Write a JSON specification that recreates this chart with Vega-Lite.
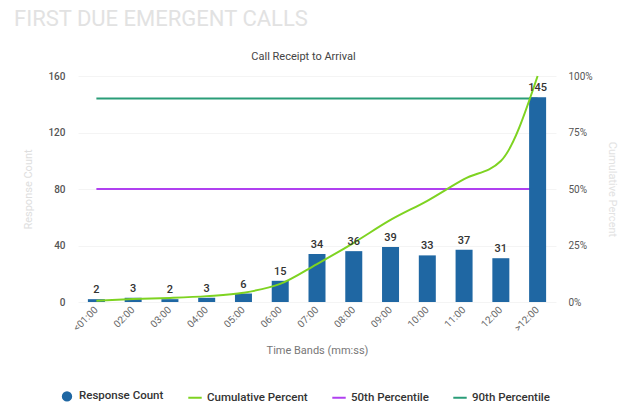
{
  "$schema": "https://vega.github.io/schema/vega-lite/v6.json",
  "width": 478,
  "height": 226,
  "autosize": "none",
  "padding": {"left": 78, "top": 76, "right": 74, "bottom": 116},
  "background": "white",
  "config": {
    "font": "Roboto",
    "view": {"stroke": null}
  },
  "title": {
    "text": "FIRST DUE EMERGENT CALLS",
    "anchor": "start",
    "frame": "group",
    "dx": -64,
    "dy": -15,
    "fontSize": 22,
    "fontWeight": "normal",
    "color": "#e2e2e2",
    "font": "Roboto"
  },
  "data": {
    "values": [
      {"band": "<01:00", "count": 2, "Cumulative Percent": 0.005, "50th Percentile": 0.5, "90th Percentile": 0.9},
      {"band": "02:00", "count": 3, "Cumulative Percent": 0.013, "50th Percentile": 0.5, "90th Percentile": 0.9},
      {"band": "03:00", "count": 2, "Cumulative Percent": 0.018, "50th Percentile": 0.5, "90th Percentile": 0.9},
      {"band": "04:00", "count": 3, "Cumulative Percent": 0.026, "50th Percentile": 0.5, "90th Percentile": 0.9},
      {"band": "05:00", "count": 6, "Cumulative Percent": 0.041, "50th Percentile": 0.5, "90th Percentile": 0.9},
      {"band": "06:00", "count": 15, "Cumulative Percent": 0.080, "50th Percentile": 0.5, "90th Percentile": 0.9},
      {"band": "07:00", "count": 34, "Cumulative Percent": 0.168, "50th Percentile": 0.5, "90th Percentile": 0.9},
      {"band": "08:00", "count": 36, "Cumulative Percent": 0.262, "50th Percentile": 0.5, "90th Percentile": 0.9},
      {"band": "09:00", "count": 39, "Cumulative Percent": 0.363, "50th Percentile": 0.5, "90th Percentile": 0.9},
      {"band": "10:00", "count": 33, "Cumulative Percent": 0.448, "50th Percentile": 0.5, "90th Percentile": 0.9},
      {"band": "11:00", "count": 37, "Cumulative Percent": 0.544, "50th Percentile": 0.5, "90th Percentile": 0.9},
      {"band": "12:00", "count": 31, "Cumulative Percent": 0.624, "50th Percentile": 0.5, "90th Percentile": 0.9},
      {"band": ">12:00", "count": 145, "Cumulative Percent": 1.0, "50th Percentile": 0.5, "90th Percentile": 0.9}
    ]
  },
  "encoding": {
    "x": {
      "field": "band",
      "type": "nominal",
      "sort": null,
      "scale": {"paddingInner": 0.54, "paddingOuter": 0.27}
    }
  },
  "layer": [
    {
      "transform": [{"fold": ["50th Percentile", "90th Percentile"], "as": ["series", "pct"]}],
      "mark": {"type": "line", "strokeWidth": 2},
      "encoding": {
        "x": {
          "field": "band", "type": "nominal", "sort": null,
          "axis": {
            "orient": "top", "title": "Call Receipt to Arrival", "labels": false, "ticks": false, "domain": false,
            "titleFont": "Roboto", "titleFontSize": 11, "titleFontWeight": "normal", "titleColor": "#444",
            "titlePadding": 15, "titleX": 225
          }
        },
        "y": {"field": "pct", "type": "quantitative", "scale": {"domain": [0, 1]}, "axis": null},
        "color": {
          "field": "series",
          "type": "nominal",
          "scale": {
            "domain": ["Response Count", "Cumulative Percent", "50th Percentile", "90th Percentile"],
            "range": ["#1f67a3", "#7ed321", "#b040f0", "#2a9d78"]
          },
          "legend": {
            "orient": "none",
            "legendX": -19,
            "legendY": 312,
            "direction": "horizontal",
            "title": null,
            "labelFont": "Roboto",
            "labelFontSize": 11.5,
            "labelFontWeight": 500,
            "labelColor": "#333",
            "columnPadding": 20,
            "symbolStrokeWidth": 2,
            "encode": {
              "symbols": {
                "update": {
                  "shape": {"signal": "datum.value === 'Response Count' ? 'circle' : 'stroke'"},
                  "size": {"signal": "datum.value === 'Response Count' ? 70 : 180"},
                  "fill": {"signal": "datum.value === 'Response Count' ? '#1f67a3' : 'transparent'"},
                  "stroke": {"scale": "color", "field": "value"},
                  "strokeWidth": {"value": 2}
                }
              }
            }
          }
        }
      }
    },
    {
      "mark": {"type": "bar", "size": 17},
      "encoding": {
        "x": {
          "field": "band", "type": "nominal", "sort": null,
          "axis": {
            "orient": "bottom", "title": "Time Bands (mm:ss)", "labelAngle": -45, "labelAlign": "right", "labelBaseline": "middle",
            "labelFont": "Roboto", "labelFontSize": 10, "labelColor": "#666", "labelPadding": 6,
            "ticks": false, "domain": false,
            "titleFont": "Roboto", "titleFontSize": 11, "titleFontWeight": "normal", "titleColor": "#777", "titlePadding": 12
          }
        },
        "y": {
          "field": "count", "type": "quantitative", "scale": {"domain": [0, 160]},
          "axis": {
            "values": [0, 40, 80, 120, 160], "title": "Response Count", "titleColor": "#dedede", "titleFontWeight": "normal",
            "titleFontSize": 11, "titlePadding": 14,
            "labelFont": "Roboto", "labelFontSize": 10, "labelFontWeight": 500, "labelColor": "#555", "labelPadding": 13,
            "ticks": false, "domain": false, "grid": true, "gridColor": "#f4f4f4"
          }
        },
        "color": {"datum": "Response Count", "type": "nominal"}
      }
    },
    {
      "transform": [{"fold": ["Cumulative Percent"], "as": ["series", "pct"]}],
      "mark": {"type": "line", "strokeWidth": 2, "interpolate": "monotone"},
      "encoding": {
        "x": {"field": "band", "type": "nominal", "sort": null, "axis": null},
        "y": {
          "field": "pct", "type": "quantitative", "scale": {"domain": [0, 1]},
          "axis": {
            "orient": "right", "values": [0, 0.25, 0.5, 0.75, 1], "format": ".0%", "title": "Cumulative Percent",
            "titleColor": "#e2e2e2", "titleFontWeight": "normal", "titleFontSize": 11, "titlePadding": 14,
            "labelFont": "Roboto", "labelFontSize": 10, "labelColor": "#555", "labelPadding": 12,
            "ticks": false, "domain": false, "grid": false
          }
        },
        "color": {"field": "series", "type": "nominal"}
      }
    },
    {
      "mark": {"type": "text", "baseline": "bottom", "dy": -4, "fontSize": 11, "fontWeight": 500, "color": "#333", "font": "Roboto"},
      "encoding": {
        "x": {"field": "band", "type": "nominal", "sort": null, "axis": null},
        "y": {"field": "count", "type": "quantitative", "scale": {"domain": [0, 160]}, "axis": null},
        "text": {"field": "count", "type": "quantitative"}
      }
    }
  ],
  "resolve": {"scale": {"y": "independent"}, "axis": {"x": "independent", "y": "independent"}}
}
